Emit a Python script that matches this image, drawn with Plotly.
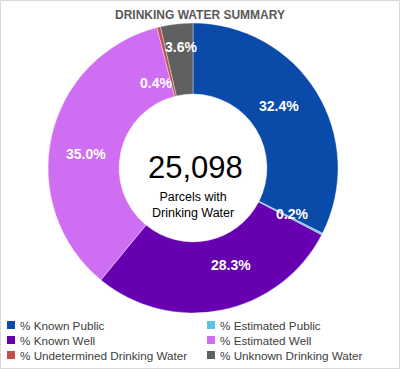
import math
import plotly.graph_objects as go

# ---- data ----
categories = ["% Known Public", "% Estimated Public", "% Known Well",
              "% Estimated Well", "% Undetermined Drinking Water", "% Unknown Drinking Water"]
values = [32.4, 0.2, 28.3, 35.0, 0.4, 3.6]
labels = ["32.4%", "0.2%", "28.3%", "35.0%", "0.4%", "3.6%"]
total_parcels = "25,098"
center_caption = "Parcels with<br>Drinking Water"
title_text = "DRINKING WATER SUMMARY"

# ---- styles ----
colors = ["#0A4BAA", "#5BC3E6", "#6600B0", "#D06EF3", "#C0504D", "#606060"]
# label placement nudges (degrees, radius in px) for crowded small slices
label_angle_nudge = [-4, -2, -10, -5, -10, 1]
label_radius = [106, 109, 104, 108, 93, 122]

W, H = 400, 369
cx, cy, R = 193, 168, 145
hole = 0.51

fig = go.Figure(go.Pie(
    labels=categories, values=values,
    marker=dict(colors=colors, line=dict(color="rgba(255,255,255,0.6)", width=0.6)),
    hole=hole, sort=False, direction="clockwise", rotation=0,
    textinfo="none", hoverinfo="label+percent", showlegend=False,
    domain=dict(x=[(cx - R) / W, (cx + R) / W], y=[1 - (cy + R) / H, 1 - (cy - R) / H]),
))

FONT = "Liberation Sans, Arial"
ann = []
tot = sum(values)
cum = 0
for i, v in enumerate(values):
    mid = (cum + v / 2) / tot * 360 + label_angle_nudge[i]
    cum += v
    a = math.radians(mid)
    px = cx + label_radius[i] * math.sin(a)
    py = cy - label_radius[i] * math.cos(a)
    ann.append(dict(x=px / W, y=1 - py / H, xref="paper", yref="paper", text="<b>" + labels[i] + "</b>",
                    showarrow=False, font=dict(family=FONT, size=14, color="white"),
                    xanchor="center", yanchor="middle"))

ann.append(dict(x=200 / W, y=1 - 15 / H, xref="paper", yref="paper", text="<b>" + title_text + "</b>",
                showarrow=False, font=dict(family=FONT, size=12, color="#595959"),
                xanchor="center", yanchor="middle"))
ann.append(dict(x=195.5 / W, y=1 - 167 / H, xref="paper", yref="paper", text=total_parcels,
                showarrow=False, font=dict(family=FONT, size=31, color="black"),
                xanchor="center", yanchor="middle"))
ann.append(dict(x=193 / W, y=1 - 205 / H, xref="paper", yref="paper", text=center_caption,
                showarrow=False, font=dict(family=FONT, size=12.5, color="black"),
                xanchor="center", yanchor="middle"))

# chart-area border
shapes = [dict(type="rect", xref="paper", yref="paper", x0=0.5 / W, x1=1 - 0.5 / W, y0=0.5 / H, y1=1 - 0.5 / H,
               line=dict(color="#D9D9D9", width=1), fillcolor="rgba(0,0,0,0)", layer="below")]

# manual legend, 2 columns
col_x = [7, 207]
row_y = [325, 340, 355]
for i, name in enumerate(categories):
    c, r = i % 2, i // 2
    x0, y0 = col_x[c], row_y[r]
    shapes.append(dict(type="rect", xref="paper", yref="paper",
                       x0=x0 / W, x1=(x0 + 8) / W, y0=1 - (y0 + 4) / H, y1=1 - (y0 - 4) / H,
                       fillcolor=colors[i], line=dict(width=0)))
    ann.append(dict(x=(x0 + 11) / W, y=1 - y0 / H, xref="paper", yref="paper", text=name,
                    showarrow=False, font=dict(family=FONT, size=11.7, color="#404040"),
                    xanchor="left", yanchor="middle"))

fig.update_layout(width=W, height=H, margin=dict(l=0, r=0, t=0, b=0),
                  paper_bgcolor="white", plot_bgcolor="white",
                  annotations=ann, shapes=shapes)
fig.write_html("out.html", config={"displayModeBar": False},
               post_script="document.body.style.margin='0';document.body.style.overflow='hidden';")
